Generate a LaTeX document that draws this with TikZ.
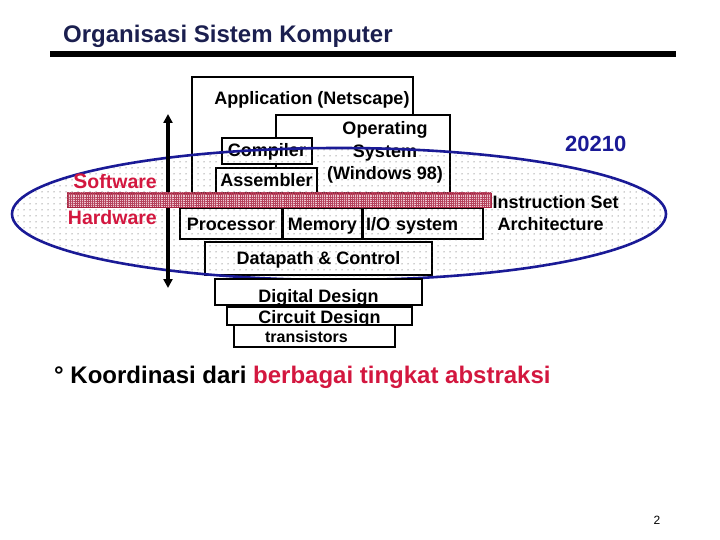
\documentclass[tikz,border=0pt]{standalone}
\usepackage{fontspec}
\setmainfont{Liberation Sans}
\usetikzlibrary{arrows.meta,patterns.meta,positioning}
\definecolor{navy}{HTML}{1B1F4F}
\definecolor{ovalblue}{HTML}{1A1A96}
\definecolor{crimson}{HTML}{D3173F}
\definecolor{barpink}{HTML}{EDC3CE}
\definecolor{barred}{HTML}{A8213F}
\newcommand\layerfont{\fontsize{18}{22.5}\selectfont\bfseries}

\begin{document}
\begin{tikzpicture}[x=1pt,y=-1pt]
\tikzset{
  layer/.style={draw,line width=1.5pt,fill=white,inner sep=0pt,
    text height=13pt,text depth=0pt,font=\layerfont},
  tag/.style={inner sep=0pt,font=\layerfont},
}
\useasboundingbox (0,0) rectangle (720,540);

% title and rule
\node[tag,anchor=base west,text=navy,font=\fontsize{24}{24}\selectfont\bfseries] (title) at (63,43) {Organisasi Sistem Komputer};
\fill (50,51) rectangle (676,57);

% software side
\draw[layer] (192,77) rectangle (413,193);
\node[tag] (app) at (312,99.5) {Application (Netscape)};
\draw[layer] (276,115) rectangle (450,193);
\node[tag,align=center,anchor=north] (os) at (385,121.5) {Operating\\System\\(Windows 98)};
\node[layer,minimum width=90pt,minimum height=26pt,text height=12pt] (comp) at (267,151) {Compiler};
\node[layer,minimum width=101pt,minimum height=25pt] (asm) at (266.5,180.5) {Assembler};

% hardware side
\node[layer,minimum width=102pt,minimum height=31pt] (proc) at (231,223.5) {Processor};
\node[layer,minimum width=78pt,minimum height=31pt,right=0pt of proc] (mem) {Memory};
\node[layer,minimum height=31pt,text width=114pt,inner xsep=3pt,align=left,right=0pt of mem] (io) {I/O system};
\node[layer,minimum width=227pt,minimum height=33pt,text height=11pt] (dp) at (318.5,258.5) {Datapath \& Control};

% the oval
\draw[ovalblue,line width=2.6pt,pattern={Dots[distance=6pt,radius=0.5pt]},pattern color=black!80]
  (339,214) ellipse [x radius=327, y radius=66];

\node[layer,minimum width=207pt,minimum height=26pt,text height=20pt] (dig) at (318.5,292) {Digital Design};
\node[layer,minimum width=185pt,minimum height=18pt,text height=14pt] (circ) at (319.5,316) {Circuit Design};
\node[layer,minimum width=161pt,minimum height=22pt,text height=12pt,font=\fontsize{16}{16}\selectfont\bfseries] (trans) at (314.5,336) {\hspace*{-16pt}transistors};

% software / hardware arrow
\coordinate (up) at (168,114);
\coordinate (down) at (168,288);
\draw[{Triangle[length=9pt,width=9pt]}-{Triangle[length=9pt,width=9pt]},line width=3.5pt] (up) -- (down);

% instruction set bar
\node[draw=barred,line width=0.8pt,fill=barpink,minimum width=424pt,minimum height=14pt,inner sep=0pt,
  postaction={pattern={Hatch[distance=2.2pt,line width=0.45pt]},pattern color=barred!85}] (isa) at (279,200) {};
\node[tag,align=left,right=1pt of isa.east,anchor=north west,yshift=5pt] (isatxt) {Instruction Set\\\hspace*{5pt}Architecture};

\node[tag,anchor=base east,text=crimson,font=\fontsize{19.5}{20}\selectfont\bfseries] (sw) at (157,189) {{\fontsize{21}{21}\selectfont S}oftware};
\node[tag,anchor=base east,text=crimson,font=\fontsize{19.5}{20}\selectfont\bfseries] (hw) at (157,225) {Hardware};
\node[tag,anchor=base west,text=ovalblue,font=\fontsize{22}{22}\selectfont\bfseries] (code) at (565,152) {20210};

% footer
\node[tag,anchor=base west,font=\fontsize{24}{24}\selectfont\bfseries] (note) at (54,383) {° Koordinasi dari \textcolor{crimson}{berbagai tingkat abstraksi}};
\node[font=\fontsize{12}{12}\selectfont] (page) at (657,520) {2};
\end{tikzpicture}
\end{document}
